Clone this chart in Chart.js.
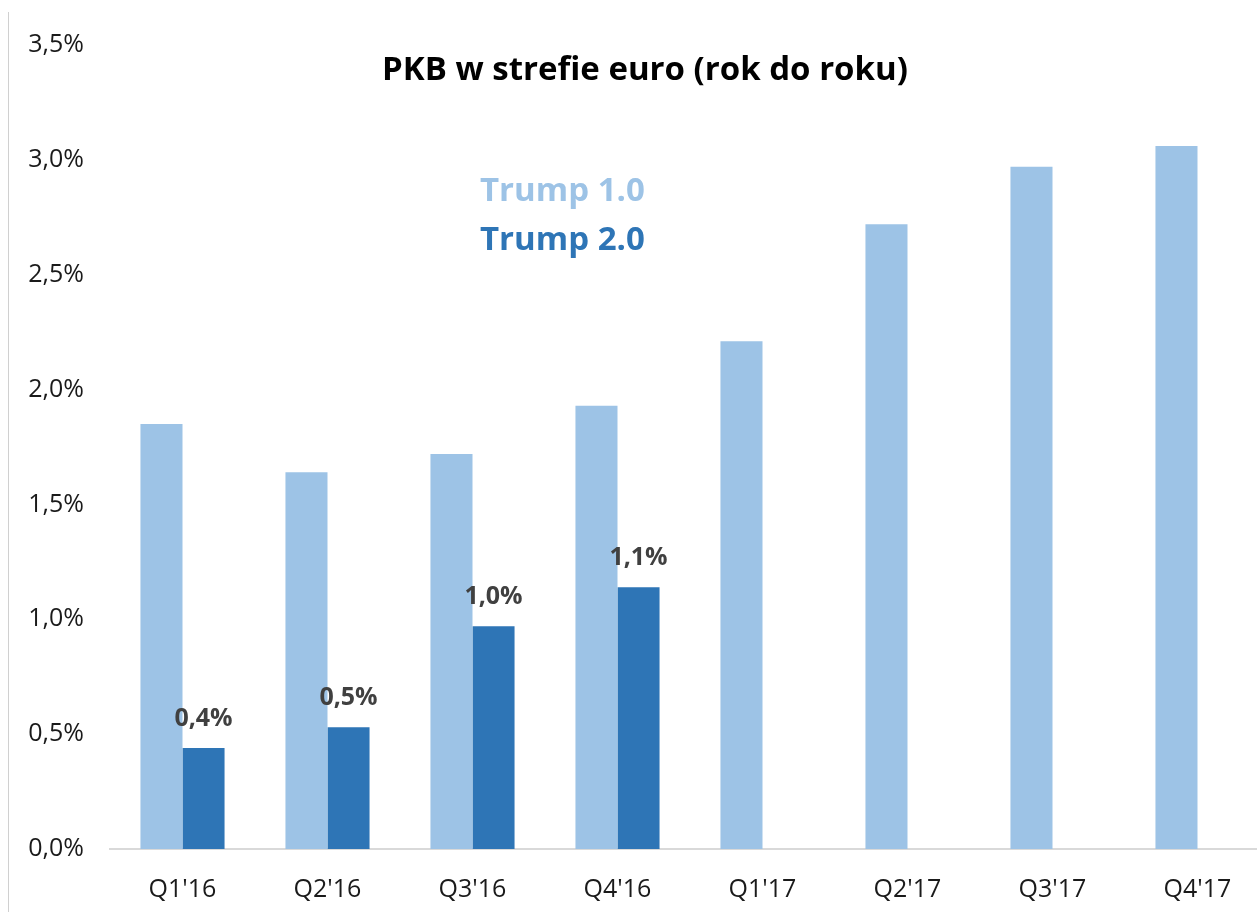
<!DOCTYPE html>
<html>
<head>
<meta charset="utf-8">
<script src="https://cdn.jsdelivr.net/npm/chart.js@4"></script>
<style>
  html, body { margin: 0; padding: 0; background: #fff; overflow: hidden; }
  #wrap { position: relative; width: 1270px; height: 912px; }
  #edge { position: absolute; left: 8px; top: 12px; width: 1px; height: 900px; background: #d0d0d0; }
</style>
</head>
<body>
<div id="wrap">
  <div id="edge"></div>
  <canvas id="gdpChart"></canvas>
</div>
<script>
// quarters on the x axis
const quarters = ["Q1'16", "Q2'16", "Q3'16", "Q4'16", "Q1'17", "Q2'17", "Q3'17", "Q4'17"];
// euro area GDP y/y, %
const trump1 = [1.85, 1.64, 1.72, 1.93, 2.21, 2.72, 2.97, 3.06];
const trump2 = [0.44, 0.53, 0.97, 1.14, null, null, null, null];
const yTicks = [0, 0.5, 1, 1.5, 2, 2.5, 3, 3.5];

const LIGHT = '#9dc3e6';
const DARK = '#2e75b6';
const FONT = "'Open Sans', 'Noto Sans', sans-serif";

const fmt = (v, d) => v.toFixed(d).replace('.', ',') + '%';

// title, text legend and value labels drawn on top
const overlay = {
  id: 'overlay',
  afterDatasetsDraw(chart) {
    const ctx = chart.ctx;
    ctx.save();
    ctx.textBaseline = 'middle';

    ctx.font = 'bold 33px ' + FONT;
    ctx.fillStyle = '#000';
    ctx.textAlign = 'center';
    ctx.fillText('PKB w strefie euro (rok do roku)', 645, 71);

    ctx.font = 'bold 33px ' + FONT;
    ctx.textAlign = 'left';
    chart.data.datasets.forEach((ds, i) => {
      ctx.fillStyle = ds.backgroundColor;
      ctx.fillText(ds.label, 480, 192 + i * 49);
    });

    // value labels above the dark bars
    ctx.font = 'bold 25px ' + FONT;
    ctx.fillStyle = '#404040';
    ctx.textAlign = 'center';
    const meta = chart.getDatasetMeta(1);
    meta.data.forEach((bar, i) => {
      const v = trump2[i];
      if (v == null) return;
      ctx.fillText(fmt(v, 1), bar.x, bar.y - 29);
    });
    ctx.restore();
  }
};

new Chart(document.getElementById('gdpChart'), {
  type: 'bar',
  data: {
    labels: quarters,
    datasets: [
      { label: 'Trump 1.0', data: trump1, backgroundColor: LIGHT },
      { label: 'Trump 2.0', data: trump2, backgroundColor: DARK }
    ]
  },
  options: {
    responsive: true,
    maintainAspectRatio: false,
    animation: false,
    layout: { padding: { top: 45, left: 20, right: 0, bottom: 0 } },
    datasets: { bar: { categoryPercentage: 0.58, barPercentage: 1 } },
    plugins: {
      legend: { display: false },
      tooltip: { enabled: false }
    },
    scales: {
      x: {
        grid: { display: false },
        border: { color: '#d9d9d9', width: 2 },
        ticks: { color: '#1a1a1a', font: { family: FONT, size: 25 }, padding: 18 },
        afterFit: (s) => { s.height = 63; }
      },
      y: {
        min: 0,
        max: 3.5,
        afterBuildTicks: (s) => { s.ticks = yTicks.map(v => ({ value: v })); },
        grid: { display: false, drawTicks: false },
        border: { display: false },
        ticks: {
          color: '#1a1a1a',
          font: { family: FONT, size: 25 },
          padding: 26,
          callback: (v) => fmt(v, 1)
        },
        afterFit: (s) => { s.width = 90; }
      }
    }
  },
  plugins: [overlay]
});
</script>
</body>
</html>
